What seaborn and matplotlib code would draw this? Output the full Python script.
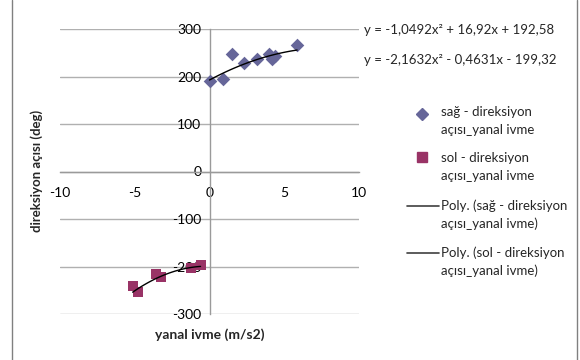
import numpy as np
import pandas as pd
import matplotlib
matplotlib.use("Agg")
import matplotlib.pyplot as plt
import seaborn as sns
from matplotlib.lines import Line2D

# sağ (right) series
sag_x = [0.0, 0.9, 1.5, 2.3, 3.2, 4.0, 4.2, 4.4, 5.86]
sag_y = [191, 195, 247, 228, 237, 248, 236, 243, 267]

# sol (left) series
sol_x = [-5.14, -4.81, -3.59, -3.26, -1.26, -0.6]
sol_y = [-242, -254, -215, -222, -203, -196]

# polynomial trendline coefficients (from the chart equations)
sag_coef = [-1.0492, 16.92, 192.58]
sol_coef = [-2.1632, -0.4631, -199.32]
eq_labels = ["y = -1,0492x² + 16,92x + 192,58",
             "y = -2,1632x² - 0,4631x - 199,32"]

series_labels = [("sağ - direksiyon", "açısı_yanal ivme"),
                 ("sol - direksiyon", "açısı_yanal ivme"),
                 ("Poly. (sağ - direksiyon", "açısı_yanal ivme)"),
                 ("Poly. (sol - direksiyon", "açısı_yanal ivme)")]

x_ticks = [-10, -5, 0, 5, 10]
y_ticks = [-300, -200, -100, 0, 100, 200, 300]

blue = "#666699"
plum = "#993366"
grid_c = "#b0b0b0"

sns.set_style("white")
plt.rcParams["font.family"] = ["Lato", "DejaVu Sans"]

W, H = 580, 360
fig = plt.figure(figsize=(5.8, 3.6), dpi=100)
ax = fig.add_axes([60 / W, 1 - 314 / H, (359 - 60) / W, (314 - 29) / H])

sag = pd.DataFrame({"x": sag_x, "y": sag_y})
sol = pd.DataFrame({"x": sol_x, "y": sol_y})

# gridlines below everything
for yv in y_ticks:
    ax.axhline(yv, color=grid_c, lw=1, zorder=0)

sns.scatterplot(data=sag, x="x", y="y", marker="D", s=48, color=blue,
                edgecolor=blue, linewidth=0, ax=ax, zorder=3)
sns.scatterplot(data=sol, x="x", y="y", marker="s", s=58, color=plum,
                edgecolor=plum, linewidth=0, ax=ax, zorder=3)

xs = np.linspace(min(sag_x), max(sag_x), 60)
sns.lineplot(x=xs, y=np.polyval(sag_coef, xs), color="black", lw=1, ax=ax, zorder=4)
xs2 = np.linspace(min(sol_x), max(sol_x), 60)
sns.lineplot(x=xs2, y=np.polyval(sol_coef, xs2), color="black", lw=1, ax=ax, zorder=4)

ax.set_xlim(-10, 10)
ax.set_ylim(-300, 300)
ax.set_xticks(x_ticks)
ax.set_yticks(y_ticks)
ax.set_xticklabels([str(v) for v in x_ticks])
ax.set_yticklabels([str(v) for v in y_ticks])

for s in ["top", "right"]:
    ax.spines[s].set_visible(False)
ax.spines["left"].set_position(("data", 0))
ax.spines["bottom"].set_position(("data", 0))
for s in ["left", "bottom"]:
    ax.spines[s].set_color("#9a9a9a")
    ax.spines[s].set_linewidth(1)
ax.tick_params(axis="both", direction="out", length=4, width=1,
               color="#9a9a9a", labelsize=10, labelcolor="black", pad=2)
ax.tick_params(axis="x", pad=7)
ax.set_xlabel("")
ax.set_ylabel("")
ax.patch.set_alpha(0)

# axis titles
fig.text(210 / W, 1 - 335 / H, "yanal ivme (m/s2)", ha="center", va="center",
         fontsize=10, fontweight="bold")
fig.text(37 / W, 1 - 171 / H, "direksiyon açısı (deg)", ha="center", va="center",
         fontsize=9.5, fontweight="bold", rotation=90)

# trendline equations
fig.text(364 / W, 1 - 30 / H, eq_labels[0], ha="left", va="center", fontsize=9.5)
fig.text(364 / W, 1 - 60 / H, eq_labels[1], ha="left", va="center", fontsize=9.5)

# legend, drawn by hand so the keys sit on the first text line
entry_y = [112, 158, 206, 253]
keys = [
    Line2D([422 / W], [1 - 114 / H], ls="none", marker="D", ms=6.5, color=blue,
           mec=blue, transform=fig.transFigure),
    Line2D([422 / W], [1 - 157 / H], ls="none", marker="s", ms=6.5, color=plum,
           mec=plum, transform=fig.transFigure),
    Line2D([407 / W, 439 / W], [1 - 206 / H] * 2, color="#404040", lw=1.2,
           transform=fig.transFigure),
    Line2D([407 / W, 439 / W], [1 - 253 / H] * 2, color="#404040", lw=1.2,
           transform=fig.transFigure),
]
for key, ey, (l1, l2) in zip(keys, entry_y, series_labels):
    fig.add_artist(key)
    fig.text(441 / W, 1 - ey / H, l1, ha="left", va="center", fontsize=9.5)
    fig.text(441 / W, 1 - (ey + 18) / H, l2, ha="left", va="center", fontsize=9.5)

# outer chart border
fig.add_artist(Line2D([12 / W, 12 / W], [0, 1], color="#808080", lw=1,
                      transform=fig.transFigure))
fig.add_artist(Line2D([577 / W, 577 / W], [0, 1], color="#808080", lw=1,
                      transform=fig.transFigure))

fig.savefig("out.png", dpi=100)
